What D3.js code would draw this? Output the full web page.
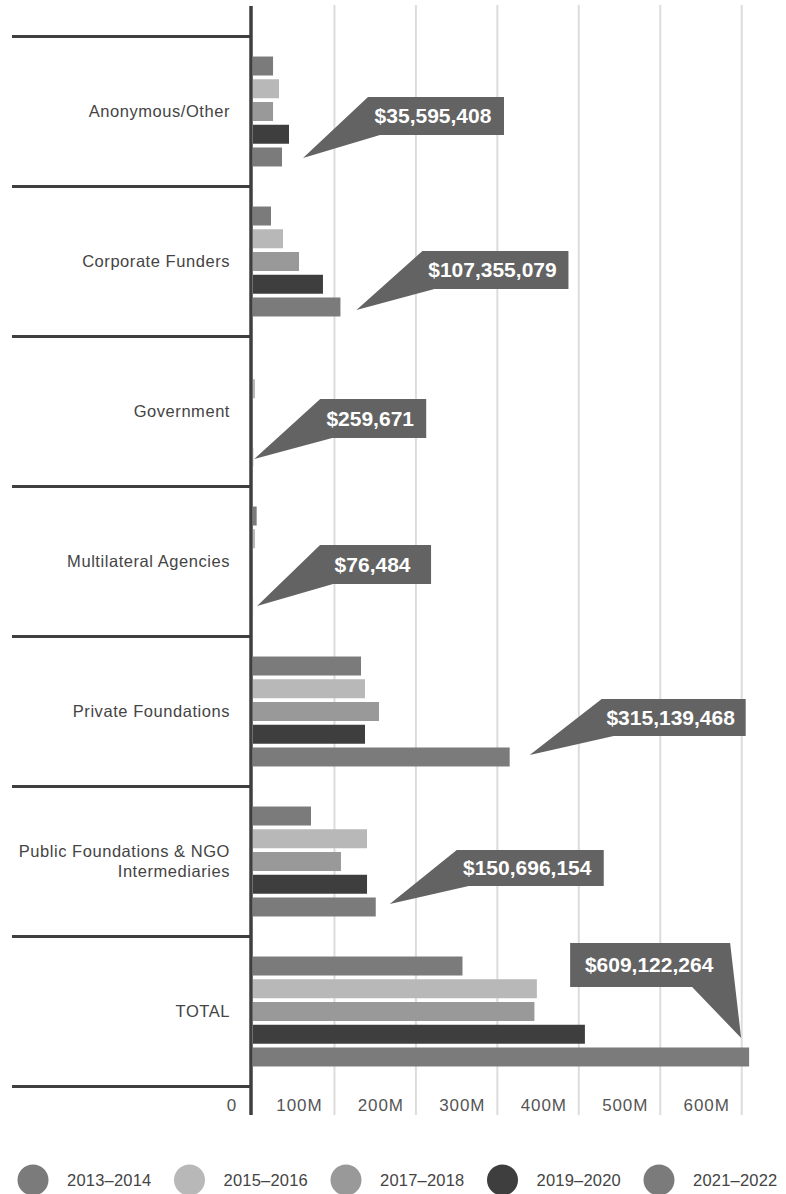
<!DOCTYPE html>
<html>
<head>
<meta charset="utf-8">
<script src="https://cdn.jsdelivr.net/npm/d3@7"></script>
<style>
  html, body { margin: 0; padding: 0; background: #fff; }
  svg { display: block; }
  text { font-family: "Liberation Sans", Arial, Helvetica, sans-serif; }
</style>
</head>
<body>
<svg id="chart" width="786" height="1194"></svg>
<script>
// Funding by source and period (USD)
const categories = [
  "Anonymous/Other",
  "Corporate Funders",
  "Government",
  "Multilateral Agencies",
  "Private Foundations",
  "Public Foundations & NGO Intermediaries",
  "TOTAL"
];
const periods = ["2013–2014", "2015–2016", "2017–2018", "2019–2020", "2021–2022"];

const values2013 = [24.6e6, 22.1e6, 0, 4.5e6, 132.6e6, 71.2e6, 257.2e6];
const values2015 = [31.9e6, 36.8e6, 2.5e6, 2.5e6, 137.5e6, 140.0e6, 348.5e6];
const values2017 = [24.6e6, 56.5e6, 0, 0, 154.7e6, 108.0e6, 345.5e6];
const values2019 = [44.2e6, 85.9e6, 0, 0, 137.5e6, 140.0e6, 407.5e6];
const values2021 = [35595408, 107355079, 259671, 76484, 315139468, 150696154, 609122264];

const tickValues = [0, 100e6, 200e6, 300e6, 400e6, 500e6, 600e6];
const tickLabels = ["0", "100M", "200M", "300M", "400M", "500M", "600M"];

const seriesValues = [values2013, values2015, values2017, values2019, values2021];
const periodColors = ["#7b7b7b", "#b8b8b8", "#999999", "#3e3e3e", "#7b7b7b"];

// Callout geometry for the latest-period labels:
// tip offset from the bar end, box offset from the tip, box size, notch position
const calloutLayout = [
  { tip: [21, 1],   box: [65, -61],  w: 136, h: 38, notch: 12, side: "left" },
  { tip: [16, 3],   box: [66, -59],  w: 146, h: 38, notch: 12, side: "left" },
  { tip: [1, 2],    box: [66, -60],  w: 106, h: 39, notch: 12, side: "left" },
  { tip: [4, -1],   box: [63, -61],  w: 111, h: 39, notch: 13, side: "left" },
  { tip: [20, -2],  box: [72, -56],  w: 144, h: 37, notch: 12, side: "left" },
  { tip: [14, -3],  box: [67, -54],  w: 147, h: 36, notch: 12, side: "left" },
  { tip: [-8, -19], box: [-171, -95], w: 160, h: 44, notch: 38, side: "right" }
];

const svg = d3.select("#chart");

const x = d3.scaleLinear().domain([0, 600e6]).range([253, 741.7]);
const y0 = d3.scaleBand().domain(categories).range([36.5, 1086.5]).padding(0);
const y1 = d3.scaleBand().domain(periods).range([0, y0.bandwidth()])
  .paddingInner(0.165).paddingOuter(0.88);

const gridTop = 5, gridBottom = 1115;

// vertical gridlines
svg.append("g")
  .selectAll("line")
  .data(tickValues.filter(d => d > 0))
  .join("line")
  .attr("x1", d => x(d)).attr("x2", d => x(d))
  .attr("y1", gridTop).attr("y2", gridBottom)
  .attr("stroke", "#dcdcdc").attr("stroke-width", 2);

// tick labels
svg.append("g")
  .selectAll("text")
  .data(tickValues)
  .join("text")
  .attr("x", d => x(d) - (d === 0 ? 16 : 12))
  .attr("y", 1111)
  .attr("text-anchor", "end")
  .attr("font-size", 17)
  .attr("letter-spacing", 0.9)
  .attr("fill", "#555")
  .text((d, i) => tickLabels[i]);

// bars
const rows = categories.map((c, ci) => ({
  category: c,
  values: periods.map((p, pi) => ({ period: p, pi, value: seriesValues[pi][ci] }))
}));

const groups = svg.append("g")
  .selectAll("g")
  .data(rows)
  .join("g")
  .attr("transform", d => `translate(0,${y0(d.category)})`);

groups.selectAll("rect")
  .data(d => d.values)
  .join("rect")
  .attr("x", x(0))
  .attr("y", d => y1(d.period))
  .attr("width", d => Math.max(0, x(d.value) - x(0)))
  .attr("height", y1.bandwidth())
  .attr("fill", d => periodColors[d.pi]);

// category separators
const boundaries = categories.map(c => y0(c)).concat([y0.range()[1]]);
svg.append("g")
  .selectAll("line")
  .data(boundaries)
  .join("line")
  .attr("x1", 12).attr("x2", 251)
  .attr("y1", d => d).attr("y2", d => d)
  .attr("stroke", "#3f3f3f").attr("stroke-width", 3);

// value axis line
svg.append("line")
  .attr("x1", 251).attr("x2", 251)
  .attr("y1", 6).attr("y2", gridBottom)
  .attr("stroke", "#3f3f3f").attr("stroke-width", 3.5);

// category labels (wrapped)
const labelG = svg.append("g");
categories.forEach(c => {
  const t = labelG.append("text")
    .attr("text-anchor", "end")
    .attr("font-size", 16.5)
    .attr("letter-spacing", 0.55)
    .attr("fill", "#444");
  const words = c.split(" ");
  const lines = [];
  let line = [];
  const probe = t.append("tspan");
  words.forEach(w => {
    line.push(w);
    probe.text(line.join(" "));
    if (probe.node().getComputedTextLength() > 222 && line.length > 1) {
      line.pop();
      lines.push(line.join(" "));
      line = [w];
    }
  });
  lines.push(line.join(" "));
  probe.remove();
  const cy = y0(c) + y0.bandwidth() / 2;
  const lh = 20;
  lines.forEach((l, i) => {
    t.append("tspan")
      .attr("x", 230)
      .attr("y", cy + (i - (lines.length - 1) / 2) * lh + 5.5)
      .text(l);
  });
});

// callouts for the 2021–2022 values
const fmt = d3.format("$,.0f");
const lastIdx = periods.length - 1;
const callG = svg.append("g");
categories.forEach((c, ci) => {
  const L = calloutLayout[ci];
  const v = seriesValues[lastIdx][ci];
  const tipX = x(v) + L.tip[0];
  const tipY = y0(c) + y1(periods[lastIdx]) + y1.bandwidth() / 2 + L.tip[1];
  const bx = tipX + L.box[0], by = tipY + L.box[1];
  let pts;
  if (L.side === "left") {
    pts = [[tipX, tipY], [bx, by], [bx + L.w, by], [bx + L.w, by + L.h], [bx + L.notch, by + L.h]];
  } else {
    pts = [[bx, by], [bx + L.w, by], [tipX, tipY], [bx + L.w - L.notch, by + L.h], [bx, by + L.h]];
  }
  callG.append("polygon")
    .attr("points", pts.map(p => p.join(",")).join(" "))
    .attr("fill", "#636363");
  const textX = L.side === "left" ? bx + L.w / 2 - 3 : bx + L.w / 2 - 1;
  callG.append("text")
    .attr("x", textX)
    .attr("y", by + L.h / 2 + 7.5)
    .attr("text-anchor", "middle")
    .attr("font-size", 21)
    .attr("font-weight", "bold")
    .attr("fill", "#fff")
    .text(fmt(v));
});

// legend
const legend = svg.append("g")
  .selectAll("g")
  .data(periods)
  .join("g")
  .attr("transform", (d, i) => `translate(${33 + i * 156.5},1180)`);
legend.append("circle")
  .attr("r", 15.5)
  .attr("fill", (d, i) => periodColors[i]);
legend.append("text")
  .attr("x", 34)
  .attr("y", 6)
  .attr("font-size", 16.5)
  .attr("letter-spacing", 0.2)
  .attr("fill", "#444")
  .text(d => d);
</script>
</body>
</html>
